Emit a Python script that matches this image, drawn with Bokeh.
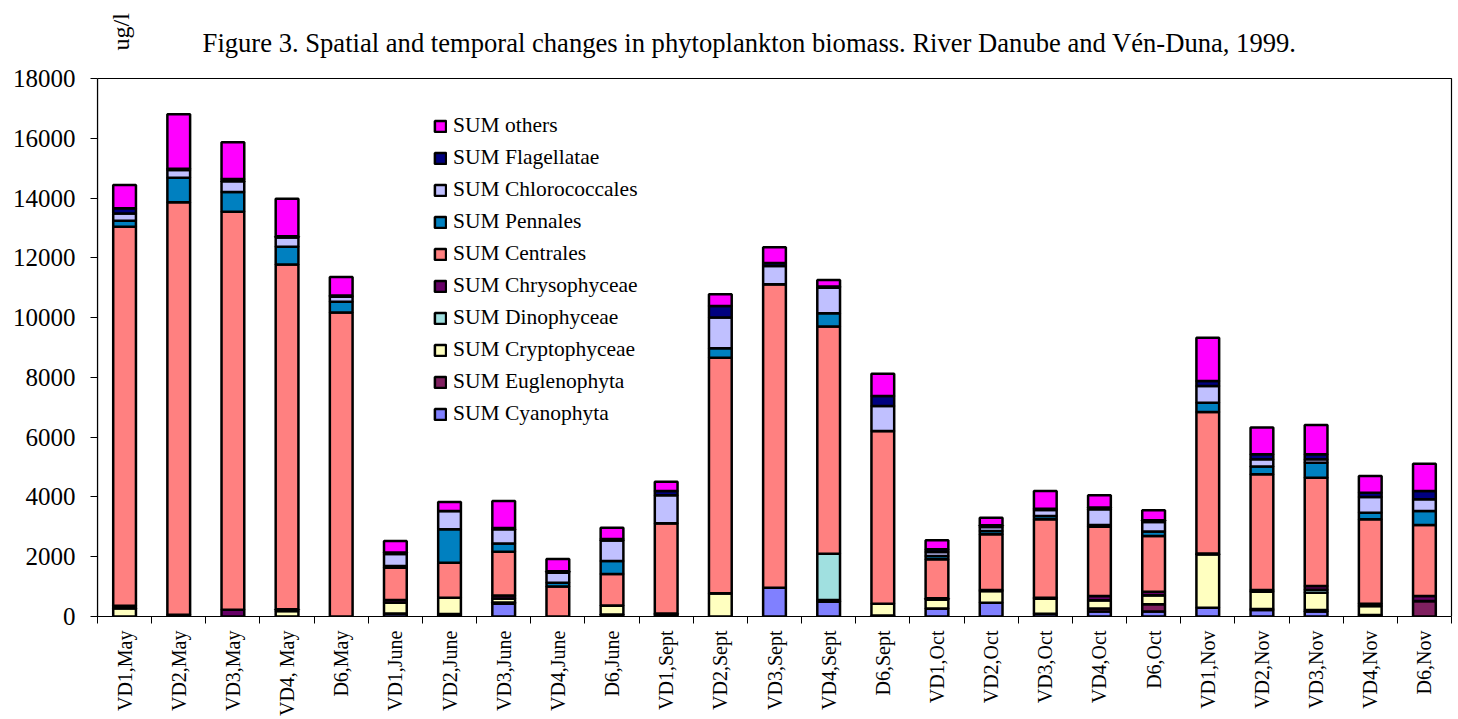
import math
from bokeh.plotting import figure
from bokeh.models import (ColumnDataSource, Range1d, FixedTicker, Legend, LegendItem, Label)
from bokeh.embed import file_html
from bokeh.resources import INLINE

categories = ["VD1,May", "VD2,May", "VD3,May", "VD4, May", "D6,May",
              "VD1,June", "VD2,June", "VD3,June", "VD4,June", "D6,June",
              "VD1,Sept", "VD2,Sept", "VD3,Sept", "VD4,Sept", "D6,Sept",
              "VD1,Oct", "VD2,Oct", "VD3,Oct", "VD4,Oct", "D6,Oct",
              "VD1,Nov", "VD2,Nov", "VD3,Nov", "VD4,Nov", "D6,Nov"]

cyanophyta     = [0, 0, 0, 0, 0, 100, 80, 430, 0, 0, 60, 0, 965, 500, 0, 270, 460, 90, 170, 170, 295, 220, 165, 0, 0]
euglenophyta   = [0, 0, 0, 0, 0, 0, 0, 40, 0, 70, 0, 0, 0, 0, 30, 0, 0, 0, 100, 240, 0, 30, 55, 50, 520]
cryptophyceae  = [280, 60, 0, 180, 0, 360, 550, 130, 0, 300, 40, 775, 0, 50, 400, 300, 395, 505, 270, 300, 1785, 580, 577, 300, 0]
dinophyceae    = [0, 0, 0, 0, 0, 0, 0, 0, 0, 0, 0, 0, 0, 1550, 0, 0, 0, 0, 0, 0, 0, 0, 100, 0, 0]
chrysophyceae  = [80, 0, 230, 60, 0, 90, 0, 100, 0, 0, 0, 0, 0, 0, 0, 40, 30, 30, 145, 120, 30, 60, 123, 80, 165]
centrales      = [12680, 13800, 13310, 11540, 10170, 1080, 1170, 1470, 1000, 1055, 3020, 7885, 10150, 7600, 5775,
                  1305, 1865, 2625, 2320, 1865, 4730, 3870, 3625, 2820, 2375]
pennales       = [200, 820, 660, 590, 360, 60, 1120, 270, 130, 430, 0, 315, 0, 445, 0, 110, 110, 110, 60, 145, 315, 255, 500, 225, 470]
chlorococcales = [240, 260, 360, 310, 170, 400, 610, 480, 330, 690, 940, 1025, 610, 855, 840, 135, 135, 205, 520, 320, 555, 245, 115, 525, 390]
flagellatae    = [180, 40, 80, 40, 40, 50, 0, 40, 50, 50, 140, 390, 105, 40, 335, 90, 60, 40, 60, 60, 170, 165, 165, 140, 280]
others         = [780, 1820, 1230, 1260, 620, 390, 300, 905, 410, 375, 310, 390, 520, 220, 745, 300, 245, 595, 410, 335, 1450, 895, 985, 560, 910]

series_names = ["SUM Cyanophyta", "SUM Euglenophyta", "SUM Cryptophyceae", "SUM Dinophyceae",
                "SUM Chrysophyceae", "SUM Centrales", "SUM Pennales", "SUM Chlorococcales",
                "SUM Flagellatae", "SUM others"]
series_values = [cyanophyta, euglenophyta, cryptophyceae, dinophyceae, chrysophyceae,
                 centrales, pennales, chlorococcales, flagellatae, others]
colors = ["#8080FF", "#802060", "#FFFFC0", "#A0E0E0", "#660066",
          "#FF8080", "#0080C0", "#C0C0FF", "#000080", "#FF00FF"]
y_ticks = [0, 2000, 4000, 6000, 8000, 10000, 12000, 14000, 16000, 18000]
y_max = 18000
title_text = "Figure 3. Spatial and temporal changes in phytoplankton biomass. River Danube and Vén-Duna, 1999."
unit_text = "ug/l"

keys = ["s%d" % i for i in range(len(series_names))]
data = {"x": [i + 0.5 for i in range(len(categories))]}
for k, v in zip(keys, series_values):
    data[k] = v
source = ColumnDataSource(data)

FONT = "Liberation Serif"
n = len(categories)

# frame: left 97, right 1458 (box edge at 1451), top 0 (box top at 78), bottom 616
frame_w = 1458 - 97
frame_h = 616
box_px_w = 1451 - 97
box_px_h = 616 - 78
x_end = n * frame_w / box_px_w
y_end = y_max * frame_h / box_px_h

p = figure(width=1458, height=719, output_backend="svg", toolbar_location=None,
           x_range=Range1d(0, x_end), y_range=Range1d(0, y_end),
           min_border_left=97, min_border_right=0, min_border_top=0, min_border_bottom=103)
p.background_fill_color = "white"
p.border_fill_color = "white"
p.outline_line_color = None
p.xgrid.visible = False
p.ygrid.visible = False

# plot-area box
p.quad(left=[0], right=[n], bottom=[0], top=[y_max], fill_color=None,
       line_color="black", line_width=1.2)

renderers = p.vbar_stack(keys, x="x", width=0.42, source=source,
                         fill_color=colors, line_color="black", line_width=2.5)

# y axis
ya = p.yaxis[0]
ya.bounds = (0, y_max)
ya.ticker = FixedTicker(ticks=y_ticks, minor_ticks=[])
ya.major_label_text_font = FONT
ya.major_label_text_font_size = "25px"
ya.major_label_text_color = "black"
ya.major_tick_out = 7
ya.major_tick_in = 0
ya.minor_tick_out = 0
ya.major_label_standoff = 15
ya.axis_line_color = "black"
ya.axis_line_width = 1.2

# x axis: labels at category centres, tick marks at boundaries
xa = p.xaxis[0]
xa.bounds = (0, n)
xa.ticker = FixedTicker(ticks=[i + 0.5 for i in range(n)],
                        minor_ticks=list(range(n + 1)))
xa.major_label_overrides = {i + 0.5: c for i, c in enumerate(categories)}
xa.major_label_orientation = math.pi / 2
xa.major_label_text_font = FONT
xa.major_label_text_font_size = "20px"
xa.major_label_text_color = "black"
xa.major_tick_out = 0
xa.major_tick_in = 0
xa.minor_tick_out = 7
xa.minor_tick_in = 0
xa.minor_tick_line_color = "black"
xa.major_label_standoff = 7
xa.axis_line_color = "black"
xa.axis_line_width = 1.2

# legend (top entry = others)
items = [LegendItem(label=nm, renderers=[r]) for nm, r in zip(series_names, renderers)][::-1]
legend = Legend(items=items, location=(336, 190), orientation="vertical",
                label_text_font=FONT, label_text_font_size="21.5px", label_text_color="black",
                glyph_width=14, glyph_height=14, label_height=24, spacing=7,
                padding=0, margin=0, label_standoff=6,
                border_line_color=None, background_fill_alpha=0)
p.add_layout(legend, "center")

# title and unit label (inside the extended frame, above the box)
title = Label(x=652, y=574, x_units="screen", y_units="screen", text=title_text,
              text_font=FONT, text_font_size="26.6px", text_color="black",
              text_align="center", text_baseline="alphabetic")
p.add_layout(title)
unit = Label(x=23, y=566, x_units="screen", y_units="screen", text=unit_text, angle=math.pi / 2,
             text_font=FONT, text_font_size="24px", text_color="black",
             text_align="left", text_baseline="alphabetic")
p.add_layout(unit)

open("out.html", "w").write(file_html(p, INLINE))
